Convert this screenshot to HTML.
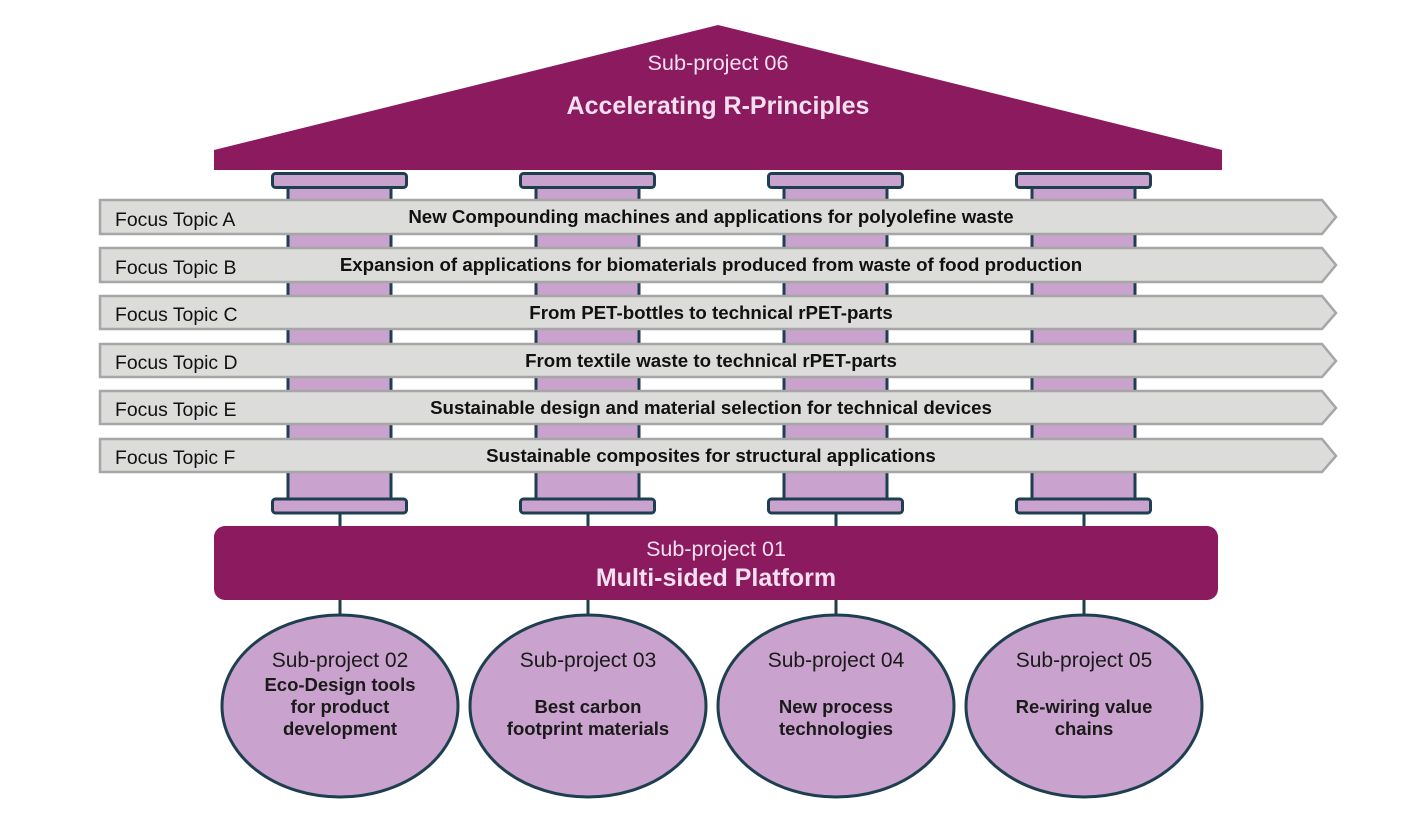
<!DOCTYPE html>
<html><head><meta charset="utf-8"><style>html,body{margin:0;padding:0;background:#fff}svg{display:block}svg text{font-family:"Liberation Sans",Arial,sans-serif}</style></head>
<body>
<svg width="1428" height="825" viewBox="0 0 1428 825" xmlns="http://www.w3.org/2000/svg">
<polygon points="214,150 718,25 1222,150 1222,170 214,170" fill="#8c1a5e"/>
<text x="718" y="70" text-anchor="middle" font-size="21.7" fill="#f2dff0">Sub-project 06</text>
<text x="718" y="114" text-anchor="middle" font-size="25" font-weight="bold" fill="#f2dff0">Accelerating R-Principles</text>
<g fill="#c9a2cd" stroke="#1e3f4f" stroke-width="3">
<g id="c">
<rect x="288" y="186" width="103" height="314"/>
<rect x="272.5" y="173.5" width="134" height="14" rx="3"/>
<rect x="272.5" y="499" width="134" height="14" rx="3"/>
<line x1="340" y1="514" x2="340" y2="527"/>
<line x1="340" y1="600" x2="340" y2="614"/>
</g>
<use href="#c" x="248"/>
<use href="#c" x="496"/>
<use href="#c" x="744"/>
</g>
<rect x="214" y="526" width="1004" height="74" rx="11" fill="#8c1a5e"/>
<text x="716" y="556" text-anchor="middle" font-size="21.5" fill="#f2dff0">Sub-project 01</text>
<text x="716" y="586" text-anchor="middle" font-size="25" font-weight="bold" fill="#f2dff0">Multi-sided Platform</text>
<g fill="#dcdcda" stroke="#a6a6a6" stroke-width="2.5">
<polygon points="100,200 1322,200 1336,217 1322,234 100,234"/>
<polygon points="100,248 1322,248 1336,265 1322,282 100,282"/>
<polygon points="100,296 1322,296 1336,313 1322,329 100,329"/>
<polygon points="100,344 1322,344 1336,361 1322,377 100,377"/>
<polygon points="100,391 1322,391 1336,408 1322,424 100,424"/>
<polygon points="100,439 1322,439 1336,456 1322,472 100,472"/>
</g>
<g font-size="19.4" fill="#111">
<text x="115" y="226">Focus Topic A</text>
<text x="115" y="274">Focus Topic B</text>
<text x="115" y="321">Focus Topic C</text>
<text x="115" y="369">Focus Topic D</text>
<text x="115" y="416">Focus Topic E</text>
<text x="115" y="464">Focus Topic F</text>
</g>
<g font-size="18.7" font-weight="bold" fill="#111" text-anchor="middle">
<text x="711" y="223">New Compounding machines and applications for polyolefine waste</text>
<text x="711" y="271">Expansion of applications for biomaterials produced from waste of food production</text>
<text x="711" y="319">From PET-bottles to technical rPET-parts</text>
<text x="711" y="367">From textile waste to technical rPET-parts</text>
<text x="711" y="414">Sustainable design and material selection for technical devices</text>
<text x="711" y="462">Sustainable composites for structural applications</text>
</g>
<g fill="#c9a2cd" stroke="#1e3f4f" stroke-width="3">
<ellipse cx="340" cy="706" rx="118" ry="91"/>
<ellipse cx="588" cy="706" rx="118" ry="91"/>
<ellipse cx="836" cy="706" rx="118" ry="91"/>
<ellipse cx="1084" cy="706" rx="118" ry="91"/>
</g>
<g text-anchor="middle" fill="#1a1a1a">
<g font-size="21">
<text x="340" y="667">Sub-project 02</text>
<text x="588" y="667">Sub-project 03</text>
<text x="836" y="667">Sub-project 04</text>
<text x="1084" y="667">Sub-project 05</text>
</g>
<g font-size="18.5" font-weight="bold">
<text x="340" y="691">Eco-Design tools</text>
<text x="340" y="713">for product</text>
<text x="340" y="735">development</text>
<text x="588" y="713">Best carbon</text>
<text x="588" y="735">footprint materials</text>
<text x="836" y="713">New process</text>
<text x="836" y="735">technologies</text>
<text x="1084" y="713">Re-wiring value</text>
<text x="1084" y="735">chains</text>
</g>
</g>
</svg>
</body></html>
